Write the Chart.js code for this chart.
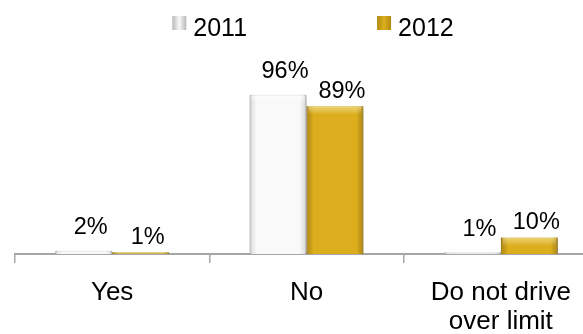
<!DOCTYPE html>
<html>
<head>
<meta charset="utf-8">
<script src="https://cdn.jsdelivr.net/npm/chart.js@4/dist/chart.umd.min.js"></script>
<style>
  html, body { margin: 0; padding: 0; background: #fff; overflow: hidden; }
</style>
</head>
<body>
<canvas id="barChart" width="626" height="334"></canvas>
<script>
// survey answers per year
const categories = ['Yes', 'No', ['Do not drive', 'over limit']];
const years = ['2011', '2012'];
const values2011 = [2, 96, 1];
const values2012 = [1, 89, 10];

const FONT = '"Liberation Sans", Arial, sans-serif';

// shadow under the bars, bevel on their edges, and the % labels on top
const barDecor = {
    id: 'barDecor',
    beforeDatasetsDraw(chart) {
        const ctx = chart.ctx;
        ctx.save();
        ctx.shadowColor = 'rgba(0, 0, 0, 0.28)';
        ctx.shadowBlur = 4;
        ctx.shadowOffsetX = 1;
        ctx.shadowOffsetY = 2;
    },
    afterDatasetsDraw(chart) {
        const ctx = chart.ctx;
        ctx.restore();

        chart.data.datasets.forEach((ds, i) => {
            chart.getDatasetMeta(i).data.forEach(bar => {
                const x0 = bar.x - bar.width / 2;
                const x1 = bar.x + bar.width / 2;
                const top = Math.min(bar.y, bar.base);
                const h = Math.abs(bar.base - bar.y);
                const edge = ds.edgeShade;

                let g = ctx.createLinearGradient(x0, 0, x0 + 7, 0);
                g.addColorStop(0, edge);
                g.addColorStop(1, 'rgba(0,0,0,0)');
                ctx.fillStyle = g;
                ctx.fillRect(x0, top, 7, h);

                g = ctx.createLinearGradient(x1, 0, x1 - 7, 0);
                g.addColorStop(0, edge);
                g.addColorStop(1, 'rgba(0,0,0,0)');
                ctx.fillStyle = g;
                ctx.fillRect(x1 - 7, top, 7, h);

                const th = Math.min(8, h);
                g = ctx.createLinearGradient(0, top, 0, top + th);
                g.addColorStop(0, ds.topShine);
                g.addColorStop(1, 'rgba(255,255,255,0)');
                ctx.fillStyle = g;
                ctx.fillRect(x0 + 2, top, bar.width - 4, th);
            });
        });

        ctx.save();
        ctx.font = '23.5px ' + FONT;
        ctx.fillStyle = '#000';
        ctx.textAlign = 'center';
        ctx.textBaseline = 'middle';
        chart.data.datasets.forEach((ds, i) => {
            const lift = i === 0 ? 23 : 15;
            chart.getDatasetMeta(i).data.forEach((bar, j) => {
                ctx.fillText(ds.data[j] + '%', bar.x + 7, bar.y - lift);
            });
        });
        ctx.restore();
    }
};

// legend row with widely spaced items
const spacedLegend = {
    id: 'spacedLegend',
    afterDraw(chart) {
        const ctx = chart.ctx;
        const box = 14, gap = 7, spread = 130;
        ctx.save();
        ctx.font = '25px ' + FONT;
        ctx.textBaseline = 'alphabetic';
        ctx.textAlign = 'left';
        const items = chart.data.datasets.map(ds => ({
            ds: ds,
            w: box + gap + ctx.measureText(ds.label).width
        }));
        const total = items.reduce((s, it) => s + it.w, 0) + spread * (items.length - 1);
        let x = chart.width / 2 - total / 2;
        items.forEach(it => {
            const g = ctx.createLinearGradient(x, 0, x + box, 0);
            g.addColorStop(0, it.ds.legendDark);
            g.addColorStop(0.5, it.ds.backgroundColor);
            g.addColorStop(1, it.ds.legendDark);
            ctx.fillStyle = g;
            ctx.fillRect(x, 16, box, box);
            ctx.fillStyle = '#000';
            ctx.fillText(it.ds.label, x + box + gap, 36);
            x += it.w + spread;
        });
        ctx.restore();
    }
};

const ctx = document.getElementById('barChart').getContext('2d');

new Chart(ctx, {
    type: 'bar',
    data: {
        labels: categories,
        datasets: [
            {
                label: years[0],
                data: values2011,
                backgroundColor: '#f9f9f9',
                borderColor: '#d0d0d0',
                borderWidth: 1,
                edgeShade: 'rgba(0,0,0,0.14)',
                topShine: 'rgba(255,255,255,0.6)',
                legendDark: '#b8b8b8',
                clip: false
            },
            {
                label: years[1],
                data: values2012,
                backgroundColor: '#dcae1e',
                borderColor: '#b8900c',
                borderWidth: 1,
                edgeShade: 'rgba(90,60,0,0.30)',
                topShine: 'rgba(255,240,150,0.55)',
                legendDark: '#b08a10',
                clip: false
            }
        ]
    },
    options: {
        responsive: false,
        animation: false,
        categoryPercentage: 0.586,
        barPercentage: 1.0,
        layout: {
            padding: { left: 15, right: 28, top: 88, bottom: 0 }
        },
        plugins: {
            legend: { display: false },
            tooltip: { enabled: false }
        },
        scales: {
            x: {
                afterFit(scale) {
                    scale.height = 80;
                },
                grid: {
                    display: true,
                    drawOnChartArea: false,
                    drawTicks: true,
                    tickLength: 9,
                    color: '#a6a6a6',
                    lineWidth: 1.5,
                    offset: true
                },
                border: { color: '#a6a6a6', width: 2 },
                ticks: {
                    color: '#000',
                    padding: 16,
                    font: { size: 26, family: FONT, lineHeight: 1.1 }
                }
            },
            y: {
                display: false,
                min: 0,
                max: 100
            }
        }
    },
    plugins: [barDecor, spacedLegend]
});
</script>
</body>
</html>
